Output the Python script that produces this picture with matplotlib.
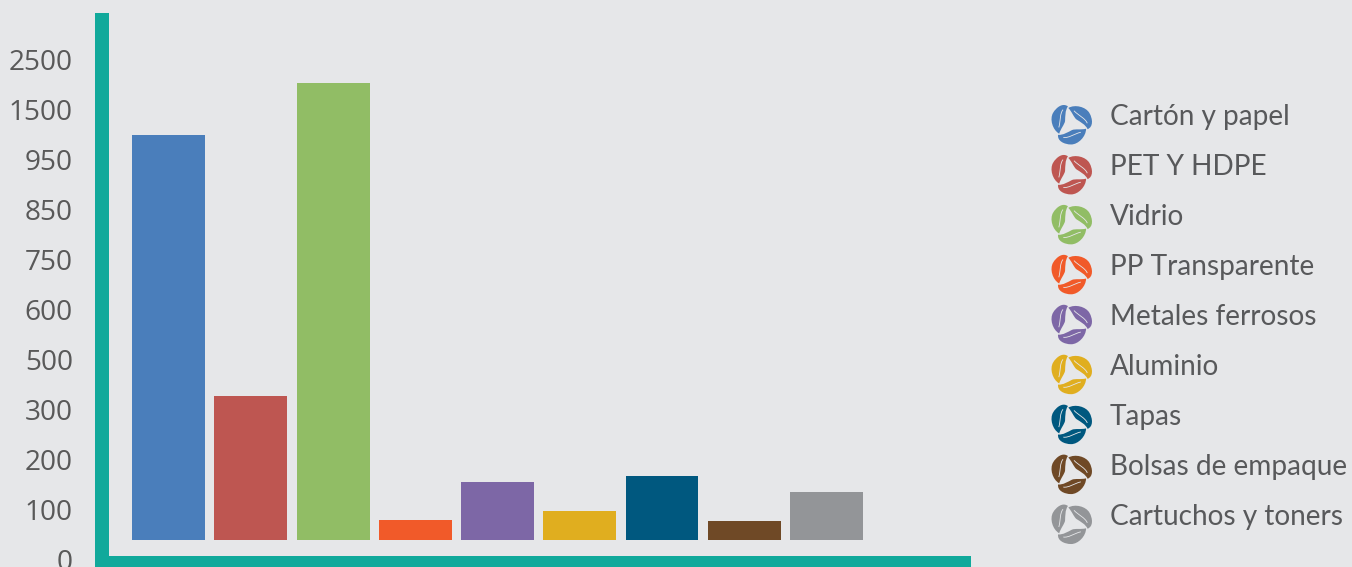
import numpy as np
import matplotlib
matplotlib.use('Agg')
import matplotlib.pyplot as plt
from matplotlib.legend_handler import HandlerBase
from matplotlib.patches import PathPatch
from matplotlib.path import Path
from matplotlib.transforms import Affine2D, ScaledTranslation

categories = ['Cartón y papel', 'PET Y HDPE', 'Vidrio', 'PP Transparente', 'Metales ferrosos',
              'Aluminio', 'Tapas', 'Bolsas de empaque', 'Cartuchos y toners']
values = [1225, 356, 2040, 80, 156, 98, 168, 78, 136]
colors = ['#4a7ebb', '#be5651', '#91bd65', '#f15a29', '#7d67a6', '#e0ae1f', '#00587f', '#6f4926', '#939598']
tick_values = [0, 100, 200, 300, 500, 600, 750, 850, 950, 1500, 2500]

BG = '#e6e7e9'
TEAL = '#11a99b'
W, H = 1352, 567

# the axis labels are evenly spaced but not linear, so the scale goes through them
scale_vals = [-100] + tick_values + [3500]
scale_pos = list(range(-1, len(tick_values) + 1))


def forward(v):
    return np.interp(v, scale_vals, scale_pos)


def inverse(p):
    return np.interp(p, scale_pos, scale_vals)


# one leaf of the icon (the bottom one), origin at the middle of the icon
LEAF = Path([(-15, -13), (-9, -13.5), (-4, -10), (1, -7.5), (5, -6), (11, -7.5), (17, -6),
             (17, -15), (8, -24), (0, -24), (-8, -24), (-16, -20), (-15, -13), (-15, -13)],
            [Path.MOVETO, Path.CURVE4, Path.CURVE4, Path.CURVE4, Path.CURVE4, Path.CURVE4, Path.CURVE4,
             Path.CURVE4, Path.CURVE4, Path.CURVE4, Path.CURVE4, Path.CURVE4, Path.CURVE4, Path.CLOSEPOLY])
VEIN = Path([(-9, -16), (-3, -17), (3, -12), (11, -10)], [Path.MOVETO, Path.CURVE4, Path.CURVE4, Path.CURVE4])


class LeafHandler(HandlerBase):
    def create_artists(self, legend, orig_handle, xdescent, ydescent, width, height, fontsize, trans):
        artists = []
        s = 0.63
        for angle in (0, 120, 240):
            t = Affine2D().rotate_deg(angle).scale(s).translate(width / 2 - xdescent, height / 2 - ydescent - 5.7) + trans
            artists.append(PathPatch(LEAF, facecolor=orig_handle.get_facecolor(), edgecolor='none', transform=t))
            artists.append(PathPatch(VEIN, facecolor='none', edgecolor=BG, linewidth=0.6, transform=t))
        return artists


fig = plt.figure(figsize=(W / 100, H / 100), dpi=100, facecolor=BG)
ax = fig.add_axes([102 / W, (H - 563) / H, (964 - 102) / W, (563 - 20) / H], facecolor=BG)

ax.set_yscale('function', functions=(forward, inverse))
ax.set_ylim(-6, 3300)
ax.set_xlim(-0.809, 9.672)

x = np.arange(len(categories))
base = 40
bars = ax.bar(x, np.array(values) - base, bottom=base, width=0.8875, color=colors)

ax.set_xticks([])
ax.set_yticks(tick_values)
ax.set_yticklabels([str(v) for v in tick_values], fontname='Open Sans', fontsize=20.2, color='#595959')
ax.yaxis.set_minor_locator(matplotlib.ticker.NullLocator())
ax.tick_params(axis='y', length=0, pad=21)
for lbl in ax.get_yticklabels():
    lbl.set_transform(lbl.get_transform() + ScaledTranslation(0, 1 / 100, fig.dpi_scale_trans))

ax.spines['top'].set_visible(False)
ax.spines['right'].set_visible(False)
for side in ('left', 'bottom'):
    ax.spines[side].set_color(TEAL)
    ax.spines[side].set_linewidth(14 * 0.72)
    ax.spines[side].set_capstyle('projecting')

leg = ax.legend(bars, categories, handler_map={matplotlib.patches.Rectangle: LeafHandler()},
                loc='upper left', bbox_to_anchor=(1051 / W, (H - 103) / H), bbox_transform=fig.transFigure,
                frameon=False, borderpad=0, borderaxespad=0, labelspacing=0.812,
                handlelength=1.44, handleheight=1.0, handletextpad=0.65,
                prop={'family': 'Lato', 'size': 20.2}, labelcolor='#58595b')

fig.savefig('out.png', dpi=100, facecolor=BG)
